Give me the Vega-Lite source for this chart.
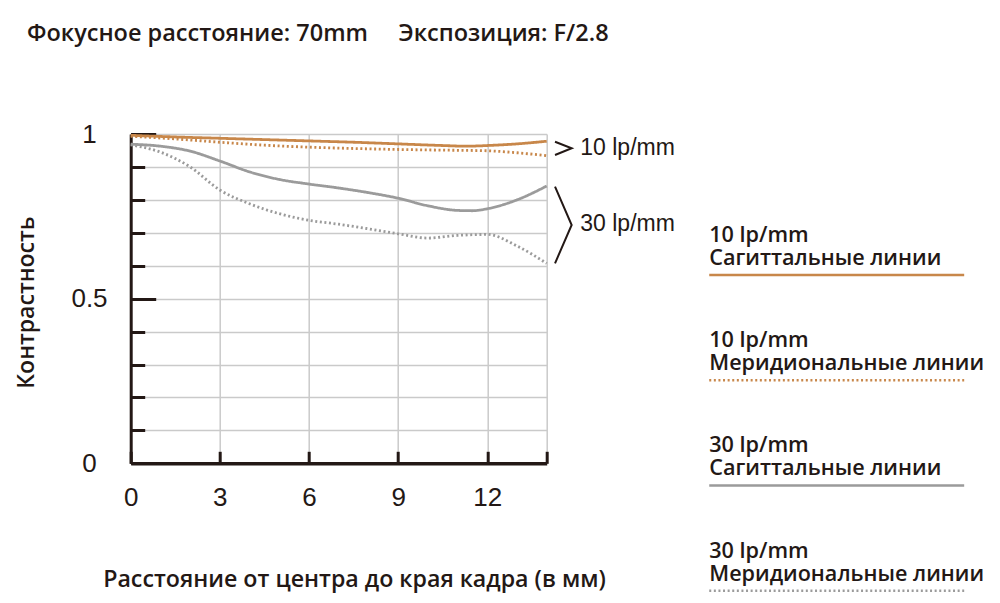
{
  "$schema": "https://vega.github.io/schema/vega-lite/v6.json",
  "width": 416,
  "height": 329.3,
  "autosize": {"type": "none"},
  "padding": {"left": 130.7, "top": 134, "right": 453.3, "bottom": 139.7},
  "background": "white",
  "config": {"view": {"stroke": null}},
  "title": {
    "text": "Фокусное расстояние: 70mm\u00a0\u00a0\u00a0\u00a0\u00a0Экспозиция: F/2.8",
    "anchor": "start",
    "frame": "group",
    "dx": -103.7,
    "offset": 57,
    "baseline": "alphabetic",
    "font": "Open Sans",
    "fontSize": 23.5,
    "fontWeight": 600,
    "color": "#231815"
  },
  "resolve": {"scale": {"y": "independent"}, "axis": {"y": "independent", "x": "independent"}},
  "layer": [
    {
      "data": {"values": [
        {"series": "S10", "x": 0, "y": 0.996}, {"series": "S10", "x": 1.5, "y": 0.991}, {"series": "S10", "x": 3, "y": 0.987}, {"series": "S10", "x": 4.5, "y": 0.983}, {"series": "S10", "x": 6, "y": 0.979}, {"series": "S10", "x": 7.5, "y": 0.975}, {"series": "S10", "x": 9, "y": 0.97}, {"series": "S10", "x": 10.5, "y": 0.965}, {"series": "S10", "x": 11.3, "y": 0.963}, {"series": "S10", "x": 12, "y": 0.965}, {"series": "S10", "x": 13, "y": 0.97}, {"series": "S10", "x": 14, "y": 0.978},
        {"series": "M10", "x": 0, "y": 0.993}, {"series": "M10", "x": 1.5, "y": 0.985}, {"series": "M10", "x": 3, "y": 0.975}, {"series": "M10", "x": 4.5, "y": 0.966}, {"series": "M10", "x": 6, "y": 0.96}, {"series": "M10", "x": 7.5, "y": 0.956}, {"series": "M10", "x": 9, "y": 0.953}, {"series": "M10", "x": 10.5, "y": 0.951}, {"series": "M10", "x": 12, "y": 0.949}, {"series": "M10", "x": 13, "y": 0.943}, {"series": "M10", "x": 14, "y": 0.934},
        {"series": "S30", "x": 0, "y": 0.969}, {"series": "S30", "x": 1, "y": 0.963}, {"series": "S30", "x": 2, "y": 0.948}, {"series": "S30", "x": 3, "y": 0.918}, {"series": "S30", "x": 4, "y": 0.885}, {"series": "S30", "x": 5, "y": 0.862}, {"series": "S30", "x": 6, "y": 0.848}, {"series": "S30", "x": 7, "y": 0.836}, {"series": "S30", "x": 8, "y": 0.822}, {"series": "S30", "x": 9, "y": 0.805}, {"series": "S30", "x": 10, "y": 0.782}, {"series": "S30", "x": 11, "y": 0.768}, {"series": "S30", "x": 11.5, "y": 0.767}, {"series": "S30", "x": 12, "y": 0.773}, {"series": "S30", "x": 13, "y": 0.8}, {"series": "S30", "x": 14, "y": 0.842},
        {"series": "M30", "x": 0, "y": 0.967}, {"series": "M30", "x": 1, "y": 0.945}, {"series": "M30", "x": 2, "y": 0.9}, {"series": "M30", "x": 3, "y": 0.83}, {"series": "M30", "x": 4, "y": 0.788}, {"series": "M30", "x": 5, "y": 0.758}, {"series": "M30", "x": 6, "y": 0.738}, {"series": "M30", "x": 7, "y": 0.726}, {"series": "M30", "x": 8, "y": 0.712}, {"series": "M30", "x": 9, "y": 0.697}, {"series": "M30", "x": 10, "y": 0.684}, {"series": "M30", "x": 11, "y": 0.692}, {"series": "M30", "x": 12, "y": 0.695}, {"series": "M30", "x": 13, "y": 0.66}, {"series": "M30", "x": 14, "y": 0.607}
      ]},
      "mark": {"type": "line", "interpolate": "monotone", "strokeWidth": 2.8, "clip": false},
      "encoding": {
        "x": {
          "field": "x", "type": "quantitative",
          "scale": {"domain": [0, 14], "nice": false, "zero": false},
          "axis": {
            "orient": "bottom",
            "values": [0, 3, 6, 9, 12, 14],
            "labelExpr": "datum.value == 14 ? '' : datum.label",
            "tickSize": -12, "tickWidth": 3, "tickColor": "#231815",
            "domainWidth": 3.5, "domainColor": "#231815",
            "grid": true, "gridColor": "#cacaca", "gridWidth": 1.5,
            "labelFont": "Liberation Sans", "labelFontSize": 26, "labelColor": "#231815",
            "labelFlush": false, "labelOverlap": false, "labelPadding": 33, "labelBaseline": "top",
            "title": "Расстояние от центра до края кадра (в мм)",
            "titleFont": "Open Sans", "titleFontSize": 23.2, "titleFontWeight": 600, "titleColor": "#231815",
            "titleX": 223.3, "titleY": 123, "titleBaseline": "alphabetic", "titleAlign": "center", "titleAnchor": null
          }
        },
        "y": {
          "field": "y", "type": "quantitative",
          "scale": {"domain": [0, 1], "nice": false, "zero": false},
          "axis": {
            "orient": "left",
            "values": [0.1, 0.2, 0.3, 0.4, 0.5, 0.6, 0.7, 0.8, 0.9, 1.0],
            "tickSize": -14, "tickWidth": 3, "tickColor": "#231815",
            "labels": false, "domain": false,
            "grid": true, "gridColor": "#cacaca", "gridWidth": 1.5,
            "title": null
          }
        },
        "color": {
          "field": "series", "type": "nominal",
          "scale": {"domain": ["S10", "M10", "S30", "M30"], "range": ["#c8874a", "#c8874a", "#9b9b9b", "#9b9b9b"]},
          "legend": null
        },
        "strokeDash": {
          "field": "series", "type": "nominal",
          "scale": {"domain": ["S10", "M10", "S30", "M30"], "range": [[1, 0], [2, 2.6], [1, 0], [2, 2.6]]},
          "legend": null
        }
      }
    },
    {
      "data": {"values": [
        {"shape": "chevron", "i": 0, "x": 14.28, "y": 0.9766},
        {"shape": "chevron", "i": 1, "x": 14.84, "y": 0.9566},
        {"shape": "chevron", "i": 2, "x": 14.28, "y": 0.9362},
        {"shape": "bracket", "i": 0, "x": 14.28, "y": 0.84},
        {"shape": "bracket", "i": 1, "x": 14.84, "y": 0.7237},
        {"shape": "bracket", "i": 2, "x": 14.28, "y": 0.6074}
      ]},
      "mark": {"type": "line", "color": "#231815", "strokeWidth": 2, "clip": false},
      "encoding": {
        "x": {"field": "x", "type": "quantitative", "scale": {"domain": [0, 14], "nice": false, "zero": false}, "axis": null},
        "y": {
          "field": "y", "type": "quantitative",
          "scale": {"domain": [0, 1], "nice": false, "zero": false},
          "axis": {
            "orient": "left",
            "values": [0, 0.5, 1],
            "format": "~g",
            "tickSize": -25, "tickWidth": 3, "tickColor": "#231815",
            "domain": true, "domainWidth": 3, "domainColor": "#231815",
            "grid": false,
            "labelFont": "Liberation Sans", "labelFontSize": 26, "labelColor": "#231815",
            "labelAlign": "center", "labelBaseline": "middle", "labelPadding": 66.7,
            "labelFlush": false, "labelOverlap": false,
            "title": "Контрастность",
            "titleFont": "Open Sans", "titleFontSize": 23, "titleFontWeight": 600, "titleColor": "#231815",
            "titleAngle": -90, "titleX": -97.7, "titleY": 168, "titleAlign": "center", "titleBaseline": "alphabetic"
          }
        },
        "detail": {"field": "shape", "type": "nominal"},
        "order": {"field": "i", "type": "quantitative"}
      }
    },
    {
      "data": {"values": [{}]},
      "mark": {"type": "text", "text": "10 lp/mm", "font": "Liberation Sans", "fontSize": 23, "align": "left", "baseline": "middle", "color": "#231815"},
      "encoding": {
        "x": {"datum": 15.13, "type": "quantitative", "scale": {"domain": [0, 14], "nice": false, "zero": false}, "axis": null},
        "y": {"datum": 0.9575, "type": "quantitative", "scale": {"domain": [0, 1], "nice": false, "zero": false}, "axis": null}
      }
    },
    {
      "data": {"values": [{}]},
      "mark": {"type": "text", "text": "30 lp/mm", "font": "Liberation Sans", "fontSize": 23, "align": "left", "baseline": "middle", "color": "#231815"},
      "encoding": {
        "x": {"datum": 15.13, "type": "quantitative", "scale": {"domain": [0, 14], "nice": false, "zero": false}, "axis": null},
        "y": {"datum": 0.7267, "type": "quantitative", "scale": {"domain": [0, 1], "nice": false, "zero": false}, "axis": null}
      }
    },
    {
      "data": {"name": "legend", "values": [
        {"series": "S10", "freq": "10 lp/mm", "kind": "Сагиттальные линии"},
        {"series": "M10", "freq": "10 lp/mm", "kind": "Меридиональные линии"},
        {"series": "S30", "freq": "30 lp/mm", "kind": "Сагиттальные линии"},
        {"series": "M30", "freq": "30 lp/mm", "kind": "Меридиональные линии"}
      ]},
      "resolve": {"scale": {"y": "shared"}},
      "encoding": {
        "y": {"field": "series", "type": "nominal", "scale": {"type": "point", "domain": ["S10", "M10", "S30", "M30"], "range": [141, 456.7], "padding": 0}, "axis": null}
      },
      "layer": [
        {
          "mark": {"type": "text", "font": "Open Sans", "fontSize": 21.6, "fontWeight": 600, "align": "left", "baseline": "alphabetic", "dy": -33, "color": "#231815"},
          "encoding": {
            "x": {"datum": 19.47, "type": "quantitative", "scale": {"domain": [0, 14], "nice": false, "zero": false}, "axis": null},
            "text": {"field": "freq"}
          }
        },
        {
          "mark": {"type": "text", "font": "Open Sans", "fontSize": 21.6, "fontWeight": 600, "align": "left", "baseline": "alphabetic", "dy": -10, "color": "#231815"},
          "encoding": {
            "x": {"datum": 19.47, "type": "quantitative", "scale": {"domain": [0, 14], "nice": false, "zero": false}, "axis": null},
            "text": {"field": "kind"}
          }
        },
        {
          "mark": {"type": "rule", "strokeWidth": 2.5},
          "encoding": {
            "x": {"datum": 19.47, "type": "quantitative", "scale": {"domain": [0, 14], "nice": false, "zero": false}, "axis": null},
            "x2": {"datum": 28.05},
            "color": {"field": "series", "type": "nominal", "legend": null},
            "strokeDash": {"field": "series", "type": "nominal", "legend": null}
          }
        }
      ]
    }
  ]
}
